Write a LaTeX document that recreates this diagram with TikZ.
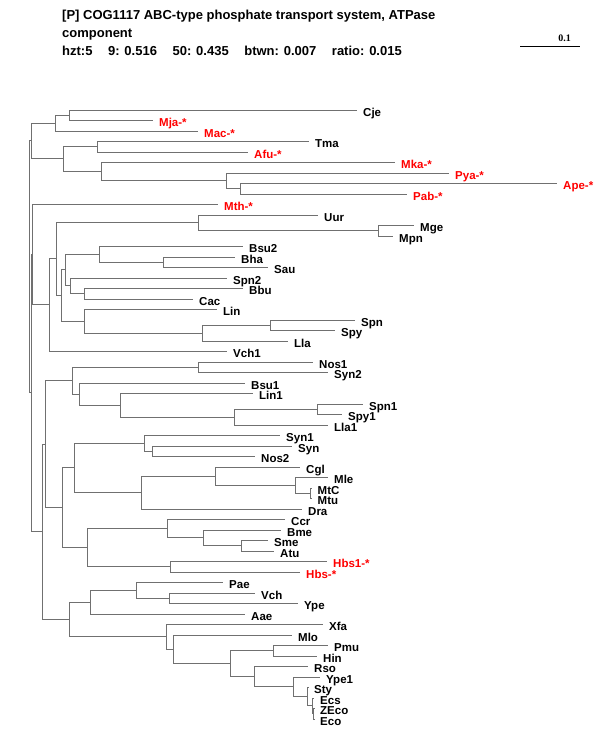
\documentclass[tikz,border=0pt]{standalone}
\usepackage{fontspec}
\setmainfont{Liberation Sans}
\newfontfamily\barserif{Liberation Serif}
\definecolor{treeline}{RGB}{112,112,112}
\newcommand\mkleaf[5]{\coordinate (#1) at (#2,#3); \node[#5] (t#1) at (#1) {#4};}
\begin{document}
\begin{tikzpicture}[x=1pt,y=-1pt,
  br/.style={draw=treeline,line width=1.4pt},
  lf/.style={anchor=base west,inner sep=0pt,xshift=6pt,yshift=-5.5pt,font=\fontsize{11.5}{12}\selectfont\bfseries},
  hl/.style={lf,text=red},
  ttl/.style={anchor=base west,inner sep=0pt,font=\fontsize{13}{15}\selectfont\bfseries}]
\useasboundingbox (0,0) rectangle (600,750);
% title
\node[ttl] (title1) at (62,19) {[P] COG1117 ABC-type phosphate transport system, ATPase};
\node[ttl] (title2) at (62,37) {component};
\node[ttl] (title3) at (62,55) {hzt:5\hspace{1.2em}9: 0.516\hspace{1.2em}50: 0.435\hspace{1.2em}btwn: 0.007\hspace{1.2em}ratio: 0.015};
% scale bar
\coordinate (sbL) at (520,46.5);
\coordinate (sbR) at (580,46.5);
\draw[black,line width=0.8pt] (sbL) -- (sbR);
\node[anchor=base east,inner sep=0pt,font=\barserif\fontsize{10}{12}\selectfont\bfseries] (sbt) at (571,41) {0.1};
% leaves
\mkleaf{Cje}{357}{110.5}{Cje}{lf}
\mkleaf{Mja}{153}{120.5}{Mja-*}{hl}
\mkleaf{Mac}{198}{131.5}{Mac-*}{hl}
\mkleaf{Tma}{309}{141.5}{Tma}{lf}
\mkleaf{Afu}{248}{152.5}{Afu-*}{hl}
\mkleaf{Mka}{395}{162.5}{Mka-*}{hl}
\mkleaf{Pya}{449}{173.5}{Pya-*}{hl}
\mkleaf{Ape}{557}{183.5}{Ape-*}{hl}
\mkleaf{Pab}{407}{194.5}{Pab-*}{hl}
\mkleaf{Mth}{218}{204.5}{Mth-*}{hl}
\mkleaf{Uur}{318}{215.5}{Uur}{lf}
\mkleaf{Mge}{414}{225.5}{Mge}{lf}
\mkleaf{Mpn}{393}{236.5}{Mpn}{lf}
\mkleaf{Bsu2}{243}{246.5}{Bsu2}{lf}
\mkleaf{Bha}{235}{257.5}{Bha}{lf}
\mkleaf{Sau}{268}{267.5}{Sau}{lf}
\mkleaf{Spn2}{227}{278.5}{Spn2}{lf}
\mkleaf{Bbu}{243}{288.5}{Bbu}{lf}
\mkleaf{Cac}{193}{299.5}{Cac}{lf}
\mkleaf{Lin}{217}{309.5}{Lin}{lf}
\mkleaf{Spn}{355}{320.5}{Spn}{lf}
\mkleaf{Spy}{335}{330.5}{Spy}{lf}
\mkleaf{Lla}{288}{341.5}{Lla}{lf}
\mkleaf{Vch1}{227}{351.5}{Vch1}{lf}
\mkleaf{Nos1}{313}{362.5}{Nos1}{lf}
\mkleaf{Syn2}{328}{372.5}{Syn2}{lf}
\mkleaf{Bsu1}{245}{383.5}{Bsu1}{lf}
\mkleaf{Lin1}{253}{393.5}{Lin1}{lf}
\mkleaf{Spn1}{363}{404.5}{Spn1}{lf}
\mkleaf{Spy1}{342}{414.5}{Spy1}{lf}
\mkleaf{Lla1}{328}{425.5}{Lla1}{lf}
\mkleaf{Syn1}{280}{435.5}{Syn1}{lf}
\mkleaf{Syn}{292}{446.5}{Syn}{lf}
\mkleaf{Nos2}{255}{456.5}{Nos2}{lf}
\mkleaf{Cgl}{300}{467.5}{Cgl}{lf}
\mkleaf{Mle}{328}{477.5}{Mle}{lf}
\mkleaf{MtC}{311.5}{488.5}{MtC}{lf}
\mkleaf{Mtu}{311.5}{498.5}{Mtu}{lf}
\mkleaf{Dra}{302}{509.5}{Dra}{lf}
\mkleaf{Ccr}{285}{519.5}{Ccr}{lf}
\mkleaf{Bme}{281}{530.5}{Bme}{lf}
\mkleaf{Sme}{268}{540.5}{Sme}{lf}
\mkleaf{Atu}{274}{551.5}{Atu}{lf}
\mkleaf{Hbs1}{327}{561.5}{Hbs1-*}{hl}
\mkleaf{Hbs}{300}{572.5}{Hbs-*}{hl}
\mkleaf{Pae}{223}{582.5}{Pae}{lf}
\mkleaf{Vch}{255}{593.5}{Vch}{lf}
\mkleaf{Ype}{298}{603.5}{Ype}{lf}
\mkleaf{Aae}{245}{614.5}{Aae}{lf}
\mkleaf{Xfa}{323}{624.5}{Xfa}{lf}
\mkleaf{Mlo}{292}{635.5}{Mlo}{lf}
\mkleaf{Pmu}{328}{645.5}{Pmu}{lf}
\mkleaf{Hin}{317}{656.5}{Hin}{lf}
\mkleaf{Rso}{308}{666.5}{Rso}{lf}
\mkleaf{Ype1}{320}{677.5}{Ype1}{lf}
\mkleaf{Sty}{308}{687.5}{Sty}{lf}
\mkleaf{Ecs}{314}{698.5}{Ecs}{lf}
\mkleaf{ZEco}{314}{708.5}{ZEco}{lf}
\mkleaf{Eco}{314}{719.5}{Eco}{lf}
% internal nodes
\coordinate (root) at (29.5,266.5);
\coordinate (nAB) at (31.5,140.5);
\coordinate (nA) at (55.5,123.5);
\coordinate (nCM) at (69.5,115.5);
\coordinate (nB) at (63.5,158.5);
\coordinate (nTA) at (97.5,146.5);
\coordinate (nMka) at (101.5,171.5);
\coordinate (nPya) at (226.5,180.5);
\coordinate (nAP) at (240.5,188.5);
\coordinate (nX) at (31.5,392.5);
\coordinate (nMthC) at (32.5,254.5);
\coordinate (nC) at (49.5,304.5);
\coordinate (nMoll) at (56.5,258.5);
\coordinate (nUur) at (198.5,222.5);
\coordinate (nMM) at (378.5,230.5);
\coordinate (nBac2) at (61.5,295.5);
\coordinate (nBac1) at (65.5,269.5);
\coordinate (nBsu2) at (99.5,254.5);
\coordinate (nBS) at (163.5,262.5);
\coordinate (nSpn2) at (70.5,285.5);
\coordinate (nBC) at (84.5,293.5);
\coordinate (nLin) at (84.5,321.5);
\coordinate (nLla) at (202.5,333.5);
\coordinate (nSS) at (270.5,325.5);
\coordinate (nD) at (42.5,531.5);
\coordinate (nE) at (45.5,444.5);
\coordinate (nE1) at (72.5,380.5);
\coordinate (nNS) at (198.5,367.5);
\coordinate (nBsu1) at (79.5,394.5);
\coordinate (nLin1) at (120.5,405.5);
\coordinate (nLla1) at (234.5,417.5);
\coordinate (nSS1) at (317.5,409.5);
\coordinate (nE2) at (62.5,507.5);
\coordinate (nE2a) at (74.5,467.5);
\coordinate (nSyn1) at (144.5,443.5);
\coordinate (nSN) at (152.5,451.5);
\coordinate (nDra) at (141.5,492.5);
\coordinate (nCgl) at (215.5,476.5);
\coordinate (nMle) at (295.5,485.5);
\coordinate (nMtb) at (310.5,493.5);
\coordinate (nE2b) at (87.5,547.5);
\coordinate (nCcr) at (167.5,528.5);
\coordinate (nBme) at (203.5,537.5);
\coordinate (nSA) at (241.5,545.5);
\coordinate (nHbs) at (170.5,566.5);
\coordinate (nF) at (69.5,619.5);
\coordinate (nAae) at (90.5,602.5);
\coordinate (nPae) at (136.5,590.5);
\coordinate (nVY) at (169.5,598.5);
\coordinate (nXfa) at (166.5,636.5);
\coordinate (nMlo) at (173.5,649.5);
\coordinate (nPmu) at (230.5,663.5);
\coordinate (nPH) at (273.5,650.5);
\coordinate (nRso) at (254.5,676.5);
\coordinate (nYpe1) at (293.5,686.5);
\coordinate (nSty) at (307.5,696.5);
\coordinate (nEcs) at (312.5,705.5);
\coordinate (nZE) at (313.5,713.5);
% branches
\foreach \p/\c in {root/nAB,root/nX,nAB/nA,nAB/nB,nA/nCM,nA/Mac,nCM/Cje,nCM/Mja,
  nB/nTA,nB/nMka,nTA/Tma,nTA/Afu,nMka/Mka,nMka/nPya,nPya/Pya,nPya/nAP,nAP/Ape,nAP/Pab,
  nX/nMthC,nX/nD,nMthC/Mth,nMthC/nC,nC/nMoll,nC/Vch1,nMoll/nUur,nMoll/nBac2,
  nUur/Uur,nUur/nMM,nMM/Mge,nMM/Mpn,nBac2/nBac1,nBac2/nLin,nBac1/nBsu2,nBac1/nSpn2,
  nBsu2/Bsu2,nBsu2/nBS,nBS/Bha,nBS/Sau,nSpn2/Spn2,nSpn2/nBC,nBC/Bbu,nBC/Cac,
  nLin/Lin,nLin/nLla,nLla/nSS,nLla/Lla,nSS/Spn,nSS/Spy,
  nD/nE,nD/nF,nE/nE1,nE/nE2,nE1/nNS,nE1/nBsu1,nNS/Nos1,nNS/Syn2,nBsu1/Bsu1,nBsu1/nLin1,
  nLin1/Lin1,nLin1/nLla1,nLla1/nSS1,nLla1/Lla1,nSS1/Spn1,nSS1/Spy1,
  nE2/nE2a,nE2/nE2b,nE2a/nSyn1,nE2a/nDra,nSyn1/Syn1,nSyn1/nSN,nSN/Syn,nSN/Nos2,
  nDra/nCgl,nDra/Dra,nCgl/Cgl,nCgl/nMle,nMle/Mle,nMle/nMtb,nMtb/MtC,nMtb/Mtu,
  nE2b/nCcr,nE2b/nHbs,nCcr/Ccr,nCcr/nBme,nBme/Bme,nBme/nSA,nSA/Sme,nSA/Atu,nHbs/Hbs1,nHbs/Hbs,
  nF/nAae,nF/nXfa,nAae/nPae,nAae/Aae,nPae/Pae,nPae/nVY,nVY/Vch,nVY/Ype,
  nXfa/Xfa,nXfa/nMlo,nMlo/Mlo,nMlo/nPmu,nPmu/nPH,nPmu/nRso,nPH/Pmu,nPH/Hin,
  nRso/Rso,nRso/nYpe1,nYpe1/Ype1,nYpe1/nSty,nSty/Sty,nSty/nEcs,nEcs/Ecs,nEcs/nZE,nZE/ZEco,nZE/Eco}
  \draw[br] (\p) |- (\c);
\end{tikzpicture}
\end{document}
